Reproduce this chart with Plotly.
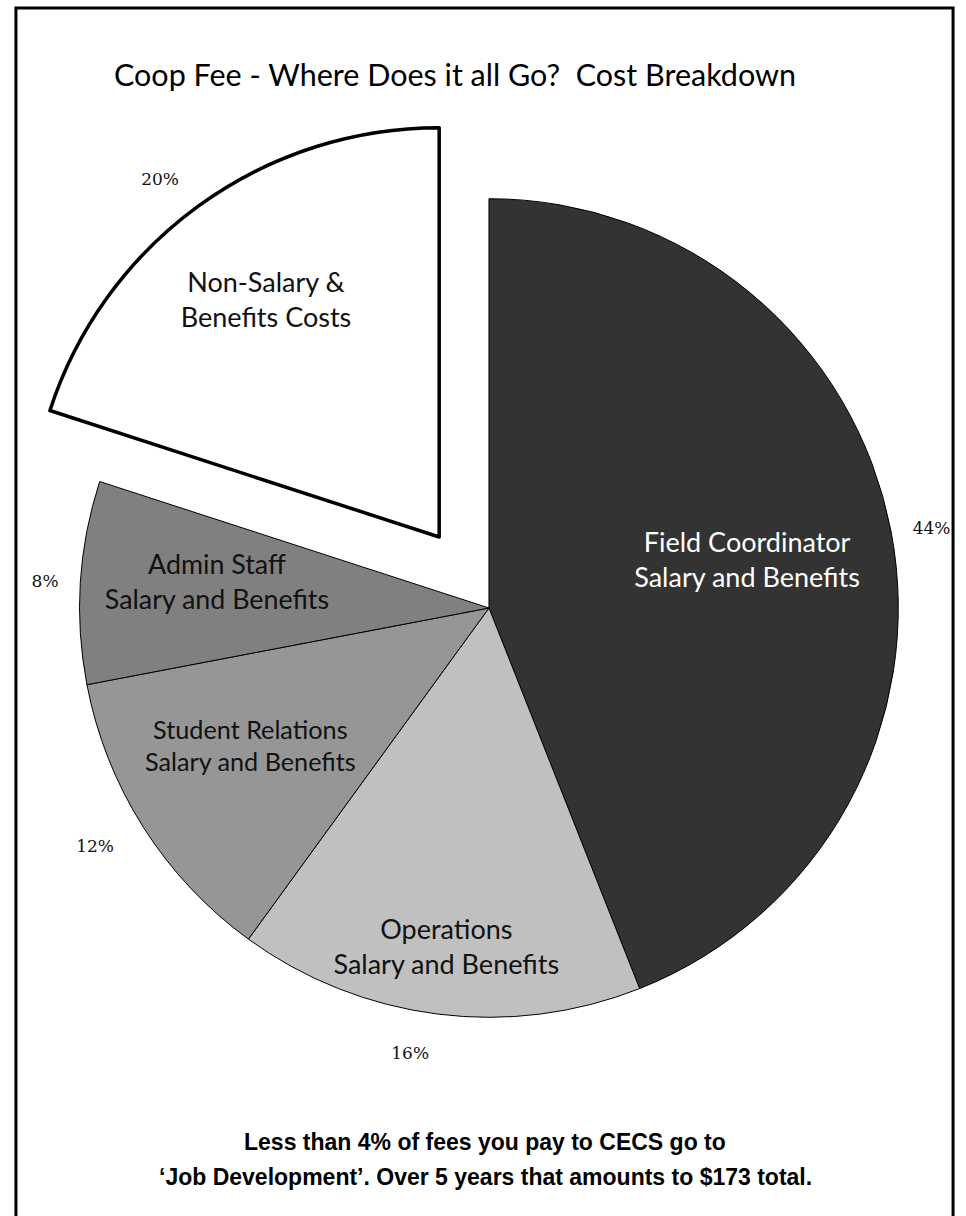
import plotly.graph_objects as go

# ---- data ----
categories = [
    "Field Coordinator<br>Salary and Benefits",
    "Operations<br>Salary and Benefits",
    "Student Relations<br>Salary and Benefits",
    "Admin Staff<br>Salary and Benefits",
    "Non-Salary &<br>Benefits Costs",
]
values = [44, 16, 12, 8, 20]
colors = ["#333333", "#c0c0c0", "#969696", "#808080", "#ffffff"]
text_colors = ["#ffffff", "#111111", "#111111", "#111111", "#111111"]
exploded = [False, False, False, False, True]

title_text = "Coop Fee - Where Does it all Go?  Cost Breakdown"
note_lines = [
    "Less than 4% of fees you pay to CECS go to",
    "\u2018Job Development\u2019. Over 5 years that amounts to $173 total.",
]

W, H = 966, 1216
R = 411                 # pie radius (px)
CENTER = (487, 608)
EXPLODE_CENTER = (437, 537)
TRANSPARENT = "rgba(0,0,0,0)"


def dom(c, r):
    cx, cy = c
    return dict(x=[max(0, (cx - r) / W), min(1, (cx + r) / W)],
                y=[max(0, 1 - (cy + r) / H), min(1, 1 - (cy - r) / H)])


def pie(fill_mask, text_mask, center, radius, line_w, text, textpos, tfont, hole=0.0):
    return go.Pie(
        values=values,
        labels=[c.replace("<br>", " ") for c in categories],
        sort=False,
        direction="clockwise",
        rotation=0,
        hole=hole,
        domain=dom(center, radius),
        marker=dict(
            colors=[col if m else TRANSPARENT for col, m in zip(colors, fill_mask)],
            line=dict(color=["#000000" if m else TRANSPARENT for m in fill_mask],
                      width=line_w),
        ),
        text=[t if m else "" for t, m in zip(text, text_mask)],
        texttemplate="%{text}",
        textposition=textpos,
        insidetextorientation="horizontal",
        textfont=tfont,
        outsidetextfont=tfont,
        hoverinfo="skip",
        showlegend=False,
    )


n = len(values)
none = [False] * n
main_mask = [not e for e in exploded]
exp_mask = list(exploded)


def only(*idx):
    return [j in idx for j in range(n)]


pct_text = ["%d%%" % v for v in values]

name_font = dict(family="Lato, 'Open Sans', sans-serif", size=27, color=text_colors)
pct_font = dict(family="'DejaVu Serif', 'Liberation Serif', serif", size=17, color="#111111")

fig = go.Figure()
# slices in place
fig.add_trace(pie(main_mask, none, CENTER, R, 1, categories, "none", name_font))
# exploded slice
fig.add_trace(pie(exp_mask, none, EXPLODE_CENTER, R, 3.5, categories, "none", name_font))

# slice names (transparent label layers; ring size / offset set the label placement)
fig.add_trace(pie(none, only(0), CENTER, R, 0, categories, "inside", name_font, hole=0.284))
fig.add_trace(pie(none, only(1), CENTER, 475, 0, categories, "inside", name_font, hole=0.44))
fig.add_trace(pie(none, only(2), (501, 585), R, 0, categories, "inside", name_font))
fig.add_trace(pie(none, only(3), (509, 581), R, 0, categories, "inside", name_font))
fig.add_trace(pie(none, only(4), EXPLODE_CENTER, R, 0, categories, "inside", name_font,
                  hole=0.44))

# percent labels
fig.add_trace(pie(none, only(0, 3), CENTER, 428, 0, pct_text, "outside", pct_font))
fig.add_trace(pie(none, only(1, 2), CENTER, 440, 0, pct_text, "outside", pct_font))
fig.add_trace(pie(none, exp_mask, EXPLODE_CENTER, 436, 0, pct_text, "outside", pct_font))

annotations = [
    dict(text=note_lines[0], x=0.5, y=1 - 1142 / H),
    dict(text=note_lines[1], x=0.5, y=1 - 1177 / H),
]
for a in annotations:
    a.update(xref="paper", yref="paper", xanchor="center", yanchor="middle",
             showarrow=False,
             font=dict(family="'Liberation Sans', Arial, sans-serif", size=23, color="#000000"))
    a["text"] = "<b>" + a["text"] + "</b>"

fig.update_layout(
    width=W,
    height=H,
    margin=dict(l=0, r=0, t=0, b=0),
    paper_bgcolor="#ffffff",
    plot_bgcolor="#ffffff",
    title=dict(text=title_text, x=455 / W, xanchor="center", y=1 - 75 / H,
               yanchor="middle", yref="container",
               font=dict(family="Lato, 'Open Sans', sans-serif", size=30.5, color="#000000")),
    annotations=annotations,
    shapes=[dict(type="rect", xref="paper", yref="paper",
                 x0=12 / W, x1=953 / W, y0=-0.01, y1=1 - 8 / H,
                 line=dict(color="#000000", width=3), layer="below")],
)

fig.write_html("out.html", config={"displayModeBar": False},
               post_script="document.body.style.margin='0';")
